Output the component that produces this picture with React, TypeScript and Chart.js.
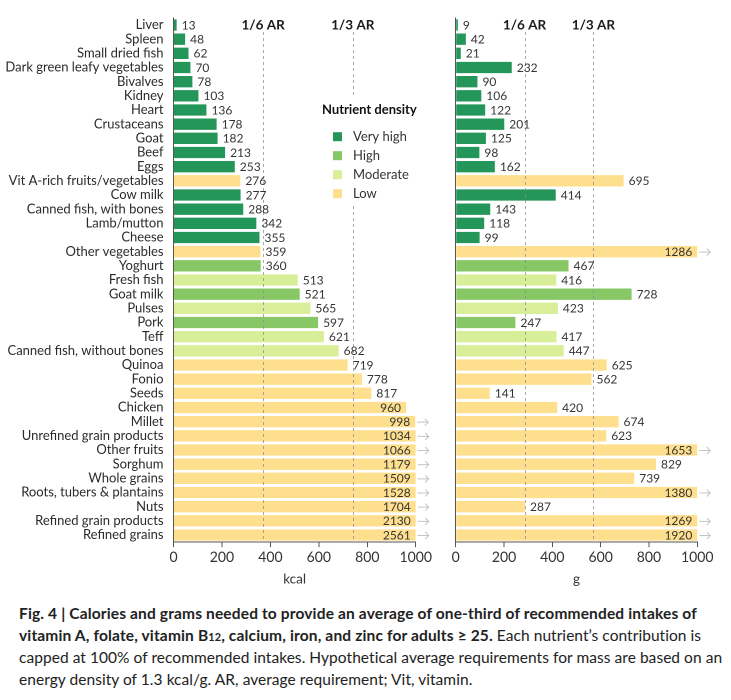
import React, { useEffect, useRef } from 'react';
import { Chart, registerables } from 'chart.js';

Chart.register(...registerables);

const categories = [
  'Liver', 'Spleen', 'Small dried fish', 'Dark green leafy vegetables', 'Bivalves', 'Kidney', 'Heart',
  'Crustaceans', 'Goat', 'Beef', 'Eggs', 'Vit A-rich fruits/vegetables', 'Cow milk', 'Canned fish, with bones',
  'Lamb/mutton', 'Cheese', 'Other vegetables', 'Yoghurt', 'Fresh fish', 'Goat milk', 'Pulses', 'Pork', 'Teff',
  'Canned fish, without bones', 'Quinoa', 'Fonio', 'Seeds', 'Chicken', 'Millet', 'Unrefined grain products',
  'Other fruits', 'Sorghum', 'Whole grains', 'Roots, tubers & plantains', 'Nuts', 'Refined grain products',
  'Refined grains',
];

const kcalValues = [
  13, 48, 62, 70, 78, 103, 136, 178, 182, 213, 253, 276, 277, 288, 342, 355, 359, 360, 513, 521, 565, 597, 621,
  682, 719, 778, 817, 960, 998, 1034, 1066, 1179, 1509, 1528, 1704, 2130, 2561,
];

const gramValues = [
  9, 42, 21, 232, 90, 106, 122, 201, 125, 98, 162, 695, 414, 143, 118, 99, 1286, 467, 416, 728, 423, 247, 417,
  447, 625, 562, 141, 420, 674, 623, 1653, 829, 739, 1380, 287, 1269, 1920,
];

const densityLevels = [
  'Very high', 'Very high', 'Very high', 'Very high', 'Very high', 'Very high', 'Very high', 'Very high',
  'Very high', 'Very high', 'Very high', 'Low', 'Very high', 'Very high', 'Very high', 'Very high', 'Low',
  'High', 'Moderate', 'High', 'Moderate', 'High', 'Moderate', 'Moderate', 'Low', 'Low', 'Low', 'Low', 'Low',
  'Low', 'Low', 'Low', 'Low', 'Low', 'Low', 'Low', 'Low',
];

const densityNames = ['Very high', 'High', 'Moderate', 'Low'];
const densityColors = ['#24965a', '#88c765', '#d9ee99', '#fedf8e'];

const axisTicks = [0, 200, 400, 600, 800, 1000];
const axisMax = 1000;
const kcalAR = [370, 740];
const gramAR = [285, 570];
const arLabels = ['1/6 AR', '1/3 AR'];

const FONT = 'Lato, "Open Sans", sans-serif';

function colorFor(level: string) {
  return densityColors[densityNames.indexOf(level)];
}

function makeOverlayPlugin(values: number[], arValues: number[], withLegend: boolean) {
  return {
    id: 'overlay',
    afterDatasetsDraw(chart: any) {
      const ctx = chart.ctx;
      const xs = chart.scales.x;
      const area = chart.chartArea;
      ctx.save();
      // AR dashed lines
      ctx.strokeStyle = 'rgba(140,140,140,0.75)';
      ctx.lineWidth = 1;
      ctx.setLineDash([3, 3]);
      arValues.forEach((v) => {
        const px = Math.round(xs.getPixelForValue(v)) + 0.5;
        ctx.beginPath();
        ctx.moveTo(px, 32);
        ctx.lineTo(px, area.bottom);
        ctx.stroke();
      });
      ctx.setLineDash([]);
      ctx.fillStyle = '#1a1a1a';
      ctx.font = `bold 13.5px ${FONT}`;
      ctx.textAlign = 'center';
      ctx.textBaseline = 'middle';
      arValues.forEach((v, i) => {
        ctx.fillText(arLabels[i], xs.getPixelForValue(v), 25);
      });

      // value labels
      const meta = chart.getDatasetMeta(0);
      ctx.font = `12px ${FONT}`;
      ctx.fillStyle = '#333';
      ctx.textBaseline = 'middle';
      meta.data.forEach((bar: any, i: number) => {
        const v = values[i];
        const x = bar.x;
        const y = bar.y;
        if (v > 940) {
          ctx.textAlign = 'right';
          ctx.fillText(String(v), x - 5, y + 0.5);
        } else {
          ctx.textAlign = 'left';
          ctx.fillText(String(v), x + 5, y + 0.5);
        }
        if (v >= 998) {
          ctx.strokeStyle = '#c4c4c4';
          ctx.lineWidth = 1;
          ctx.beginPath();
          ctx.moveTo(x + 2, y + 0.5);
          ctx.lineTo(x + 13, y + 0.5);
          ctx.moveTo(x + 9.5, y - 3);
          ctx.lineTo(x + 13, y + 0.5);
          ctx.lineTo(x + 9.5, y + 4);
          ctx.stroke();
        }
      });

      if (withLegend) {
        ctx.fillStyle = '#ffffff';
        ctx.fillRect(318, 97, 96, 108);
        ctx.fillStyle = '#111';
        ctx.font = `bold 13px ${FONT}`;
        ctx.textAlign = 'left';
        ctx.fillText('Nutrient density', 322, 110);
        ctx.font = `13px ${FONT}`;
        densityNames.forEach((name, i) => {
          const cy = 136.7 + i * 19;
          ctx.fillStyle = densityColors[i];
          ctx.fillRect(333, cy - 4.5, 9, 9);
          ctx.fillStyle = '#333';
          ctx.fillText(name, 353, cy);
        });
      }
      ctx.restore();
    },
  };
}

function makeConfig(values: number[], arValues: number[], opts: {
  showLabels: boolean; yWidth: number; padRight: number; unit: string; legend: boolean;
}) {
  return {
    type: 'bar' as const,
    data: {
      labels: categories,
      datasets: [
        {
          data: values.map((v) => Math.min(v, axisMax)),
          backgroundColor: densityLevels.map(colorFor),
          borderWidth: 0,
          categoryPercentage: 0.8,
          barPercentage: 1,
        },
      ],
    },
    options: {
      indexAxis: 'y' as const,
      responsive: false,
      animation: false as const,
      devicePixelRatio: 2,
      layout: { padding: { left: 0, right: opts.padRight, top: 17.9, bottom: 9 } },
      plugins: { legend: { display: false }, tooltip: { enabled: false } },
      scales: {
        y: {
          ticks: {
            display: opts.showLabels,
            color: '#2a2a2a',
            font: { family: FONT, size: 13 },
            padding: 10,
            autoSkip: false,
          },
          grid: { display: true, drawOnChartArea: false, drawTicks: false, color: '#555' },
          border: { display: true, color: '#555', width: 1 },
          afterFit: (s: any) => {
            s.width = opts.yWidth;
          },
        },
        x: {
          min: 0,
          max: axisMax,
          afterBuildTicks: (s: any) => {
            s.ticks = axisTicks.map((v) => ({ value: v }));
          },
          ticks: {
            color: '#333',
            font: { family: FONT, size: 14 },
            padding: 2,
            maxRotation: 0,
            callback: (v: any) => String(v),
          },
          grid: { display: true, drawOnChartArea: false, tickLength: 5, color: '#555' },
          border: { display: true, color: '#555', width: 1 },
          title: {
            display: true,
            text: opts.unit,
            color: '#333',
            font: { family: FONT, size: 13.5 },
          },
          afterFit: (s: any) => {
            s.height = 48.9;
          },
        },
      },
    },
    plugins: [makeOverlayPlugin(values, arValues, opts.legend)],
  };
}

export default function App() {
  const leftRef = useRef<HTMLCanvasElement>(null);
  const rightRef = useRef<HTMLCanvasElement>(null);

  useEffect(() => {
    const left = new Chart(
      leftRef.current as HTMLCanvasElement,
      makeConfig(kcalValues, kcalAR, { showLabels: true, yWidth: 173.5, padRight: 24.3, unit: 'kcal', legend: true }) as any,
    );
    const right = new Chart(
      rightRef.current as HTMLCanvasElement,
      makeConfig(gramValues, gramAR, { showLabels: false, yWidth: 15.7, padRight: 33.7, unit: 'g', legend: false }) as any,
    );
    return () => {
      left.destroy();
      right.destroy();
    };
  }, []);

  const bold = { letterSpacing: '0.15px' };
  const reg = { letterSpacing: '0.05px' };

  return (
    <div style={{ position: 'absolute', left: 0, top: 0, width: 731, height: 700, background: '#fff', overflow: 'hidden' }}>
      <div style={{ position: 'absolute', left: 0, top: 0, width: 440, height: 600 }}>
        <canvas ref={leftRef} width={440} height={600} style={{ width: 440, height: 600 }} />
      </div>
      <div style={{ position: 'absolute', left: 440, top: 0, width: 291, height: 600 }}>
        <canvas ref={rightRef} width={291} height={600} style={{ width: 291, height: 600 }} />
      </div>
      <div
        style={{
          position: 'absolute',
          left: 19,
          top: 603,
          fontFamily: FONT,
          fontSize: 15.5,
          lineHeight: '21.5px',
          color: '#222',
          whiteSpace: 'nowrap',
        }}
      >
        <b style={bold}>Fig. 4 | Calories and grams needed to provide an average of one-third of recommended intakes of</b>
        <br />
        <b style={bold}>
          vitamin A, folate, vitamin B<span style={{ fontSize: '0.7em' }}>12</span>, calcium, iron, and zinc for adults ≥ 25.
        </b>
        <span style={reg}> Each nutrient’s contribution is</span>
        <br />
        <span style={reg}>capped at 100% of recommended intakes. Hypothetical average requirements for mass are based on an</span>
        <br />
        <span style={reg}>energy density of 1.3 kcal/g. AR, average requirement; Vit, vitamin.</span>
      </div>
    </div>
  );
}
